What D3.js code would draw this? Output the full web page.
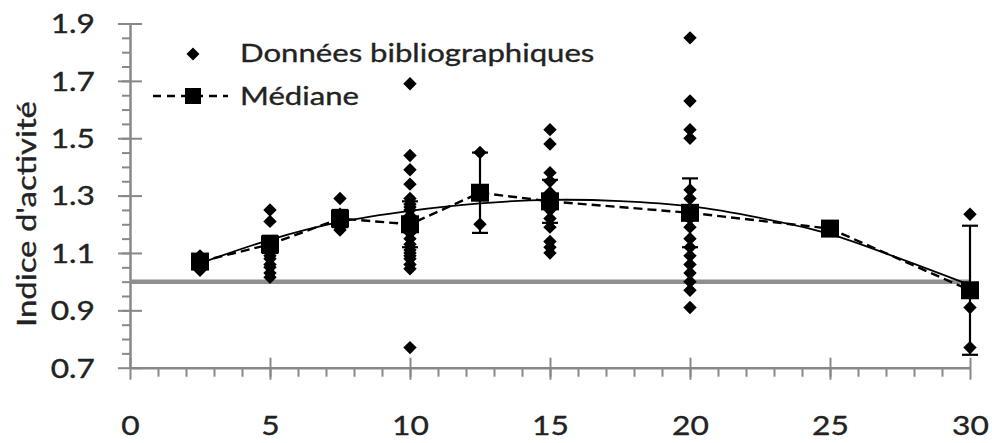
<!DOCTYPE html>
<html>
<head>
<meta charset="utf-8">
<script src="https://cdn.jsdelivr.net/npm/d3@7"></script>
<style>
body { margin: 0; background: #fff; }
text { font-family: Lato, "Open Sans", sans-serif; fill: #222; stroke: #222; stroke-width: 0.35px; }
</style>
</head>
<body>
<svg id="chart" width="992" height="443"></svg>
<script>
// x positions where the bibliographic values were collected
var xGroups = [2.5, 5, 7.5, 10, 12.5, 15, 20, 25, 30];

// bibliographic values for each x group
var obsAt2_5 = [1.04, 1.05, 1.06, 1.07, 1.075, 1.08, 1.09];
var obsAt5 = [1.25, 1.21, 1.14, 1.13, 1.12, 1.11, 1.10, 1.09, 1.08, 1.06, 1.05, 1.03, 1.015];
var obsAt7_5 = [1.29, 1.235, 1.22, 1.21, 1.20, 1.19, 1.18];
var obsAt10 = [1.69, 1.44, 1.39, 1.34, 1.29, 1.27, 1.26, 1.25, 1.23, 1.21, 1.19, 1.17, 1.15, 1.13, 1.11, 1.10, 1.09, 1.08, 1.06, 1.045, 0.77];
var obsAt12_5 = [1.45, 1.20];
var obsAt15 = [1.53, 1.48, 1.38, 1.35, 1.31, 1.29, 1.28, 1.27, 1.25, 1.22, 1.19, 1.14, 1.12, 1.10];
var obsAt20 = [1.85, 1.63, 1.53, 1.50, 1.32, 1.29, 1.25, 1.22, 1.19, 1.15, 1.12, 1.09, 1.06, 1.03, 1.00, 0.97, 0.91];
var obsAt25 = [1.18];
var obsAt30 = [1.235, 0.97, 0.91, 0.77];

// median per group and error bar half-width
var medians = [1.07, 1.13, 1.22, 1.20, 1.31, 1.28, 1.24, 1.185, 0.97];
var medianErr = [0.02, 0.03, 0.03, 0.08, 0.14, 0.075, 0.12, 0, 0.225];

// fitted trend curve
var trendX = [2.5, 5, 7.5, 10, 12.5, 15, 17.5, 20, 22.5, 25, 27.5, 30];
var trendY = [1.064, 1.146, 1.208, 1.247, 1.273, 1.285, 1.281, 1.263, 1.222, 1.166, 1.08, 0.988];

// axis ticks
var xTicks = [0, 5, 10, 15, 20, 25, 30];
var yTicks = [0.7, 0.9, 1.1, 1.3, 1.5, 1.7, 1.9];

var obsGroups = [obsAt2_5, obsAt5, obsAt7_5, obsAt10, obsAt12_5, obsAt15, obsAt20, obsAt25, obsAt30];
var points = [];
obsGroups.forEach(function(vals, i) {
    vals.forEach(function(v) { points.push({ x: xGroups[i], y: v }); });
});
var medianData = xGroups.map(function(x, i) {
    return { x: x, y: medians[i], err: medianErr[i] };
});
var trendData = trendX.map(function(x, i) { return { x: x, y: trendY[i] }; });

var margin = { top: 23.5, left: 130 },
    width = 840,
    height = 344.2;
var sx = 1.22; // glyphs in the original are wider than Lato
var axisColor = '#888';

var svg = d3.select('#chart')
    .append('g')
    .attr('transform', 'translate(' + margin.left + ',' + margin.top + ')');

var x = d3.scaleLinear().domain([0, 30]).range([0, width]);
var y = d3.scaleLinear().domain([0.7, 1.9]).range([height, 0]);

// minor ticks first
svg.append('g')
    .call(d3.axisLeft(y).tickValues(d3.range(0.75, 1.9, 0.05)).tickSize(8).tickFormat(''))
    .call(function(g) { g.select('.domain').remove(); })
    .selectAll('line').attr('stroke', axisColor).attr('stroke-width', 2);

svg.append('g')
    .attr('transform', 'translate(0,' + height + ')')
    .call(d3.axisBottom(x).tickValues(d3.range(1, 30, 1)).tickSize(9).tickFormat(''))
    .call(function(g) { g.select('.domain').remove(); })
    .selectAll('line').attr('stroke', axisColor).attr('stroke-width', 2);

// y axis
var yAxis = svg.append('g')
    .call(d3.axisLeft(y).tickValues(yTicks).tickSize(12).tickSizeOuter(0).tickFormat(d3.format('.1f')));
yAxis.select('.domain').attr('stroke', axisColor).attr('stroke-width', 2.5);
yAxis.selectAll('.tick line').attr('stroke', axisColor).attr('stroke-width', 2).attr('x1', 12);
yAxis.selectAll('.tick text')
    .attr('x', -35 / sx)
    .attr('dy', '0.36em')
    .attr('transform', 'scale(' + sx + ',1)')
    .style('font-size', '26px')
    .style('font-family', 'Lato')
    .attr('fill', '#222');

// x axis
var xAxis = svg.append('g')
    .attr('transform', 'translate(0,' + height + ')')
    .call(d3.axisBottom(x).tickValues(xTicks).tickSize(12).tickSizeOuter(0));
xAxis.select('.domain').attr('stroke', axisColor).attr('stroke-width', 2.5);
xAxis.selectAll('.tick line').attr('stroke', axisColor).attr('stroke-width', 2).attr('y1', -10);
xAxis.selectAll('.tick text')
    .attr('y', 67)
    .attr('dy', 0)
    .attr('transform', 'scale(' + sx + ',1)')
    .style('font-size', '26px')
    .style('font-family', 'Lato')
    .attr('fill', '#222');

svg.append('text')
    .attr('transform', 'translate(' + (36 - margin.left) + ',' + (214 - margin.top) + ') rotate(-90) scale(' + sx + ',1)')
    .attr('text-anchor', 'middle')
    .style('font-size', '27px')
    .text("Indice d'activité");

// reference line at 1
svg.append('line')
    .attr('x1', x(0)).attr('x2', x(30))
    .attr('y1', y(1)).attr('y2', y(1))
    .attr('stroke', '#8e8e8e')
    .attr('stroke-width', 4.5);

// fitted curve
var trendLine = d3.line()
    .x(function(d) { return x(d.x); })
    .y(function(d) { return y(d.y); })
    .curve(d3.curveCatmullRom);
svg.append('path')
    .datum(trendData)
    .attr('d', trendLine)
    .attr('fill', 'none')
    .attr('stroke', '#000')
    .attr('stroke-width', 1.8);

// median dashed line
var medLine = d3.line()
    .x(function(d) { return x(d.x); })
    .y(function(d) { return y(d.y); });
svg.append('path')
    .datum(medianData)
    .attr('d', medLine)
    .attr('fill', 'none')
    .attr('stroke', '#000')
    .attr('stroke-width', 2.4)
    .attr('stroke-dasharray', '9,5');

// diamond like the excel marker (wider than d3.symbolDiamond)
var diamond = {
    draw: function(context, size) {
        var h = Math.sqrt(size) / 2;
        context.moveTo(0, -h);
        context.lineTo(h, 0);
        context.lineTo(0, h);
        context.lineTo(-h, 0);
        context.closePath();
    }
};

svg.selectAll('.obs')
    .data(points)
    .enter().append('path')
    .attr('class', 'obs')
    .attr('transform', function(d) { return 'translate(' + x(d.x) + ',' + y(d.y) + ')'; })
    .attr('d', d3.symbol().type(diamond).size(180))
    .attr('fill', '#000');

// error bars
var bars = svg.selectAll('.err')
    .data(medianData.filter(function(d) { return d.err > 0; }))
    .enter().append('g')
    .attr('class', 'err')
    .attr('stroke', '#000')
    .attr('stroke-width', 2.2);
bars.append('line')
    .attr('x1', function(d) { return x(d.x); })
    .attr('x2', function(d) { return x(d.x); })
    .attr('y1', function(d) { return y(d.y - d.err); })
    .attr('y2', function(d) { return y(d.y + d.err); });
bars.selectAll('.cap')
    .data(function(d) { return [{ x: d.x, y: d.y - d.err }, { x: d.x, y: d.y + d.err }]; })
    .enter().append('line')
    .attr('x1', function(d) { return x(d.x) - 8; })
    .attr('x2', function(d) { return x(d.x) + 8; })
    .attr('y1', function(d) { return y(d.y); })
    .attr('y2', function(d) { return y(d.y); });

svg.selectAll('.med')
    .data(medianData)
    .enter().append('path')
    .attr('class', 'med')
    .attr('transform', function(d) { return 'translate(' + x(d.x) + ',' + y(d.y) + ')'; })
    .attr('d', d3.symbol().type(d3.symbolSquare).size(324))
    .attr('fill', '#000');

// legend
var legend = d3.select('#chart').append('g');
legend.append('path')
    .attr('transform', 'translate(193,54)')
    .attr('d', d3.symbol().type(diamond).size(170))
    .attr('fill', '#000');
legend.append('text')
    .attr('transform', 'translate(240,62) scale(' + sx + ',1)')
    .style('font-size', '25.5px')
    .text('Données bibliographiques');

legend.append('line')
    .attr('x1', 153).attr('x2', 228)
    .attr('y1', 96).attr('y2', 96)
    .attr('stroke', '#000')
    .attr('stroke-width', 2.4)
    .attr('stroke-dasharray', '8,6');
legend.append('path')
    .attr('transform', 'translate(193,96)')
    .attr('d', d3.symbol().type(d3.symbolSquare).size(256))
    .attr('fill', '#000');
legend.append('text')
    .attr('transform', 'translate(240,105) scale(' + sx + ',1)')
    .style('font-size', '25.5px')
    .text('Médiane');
</script>
</body>
</html>
